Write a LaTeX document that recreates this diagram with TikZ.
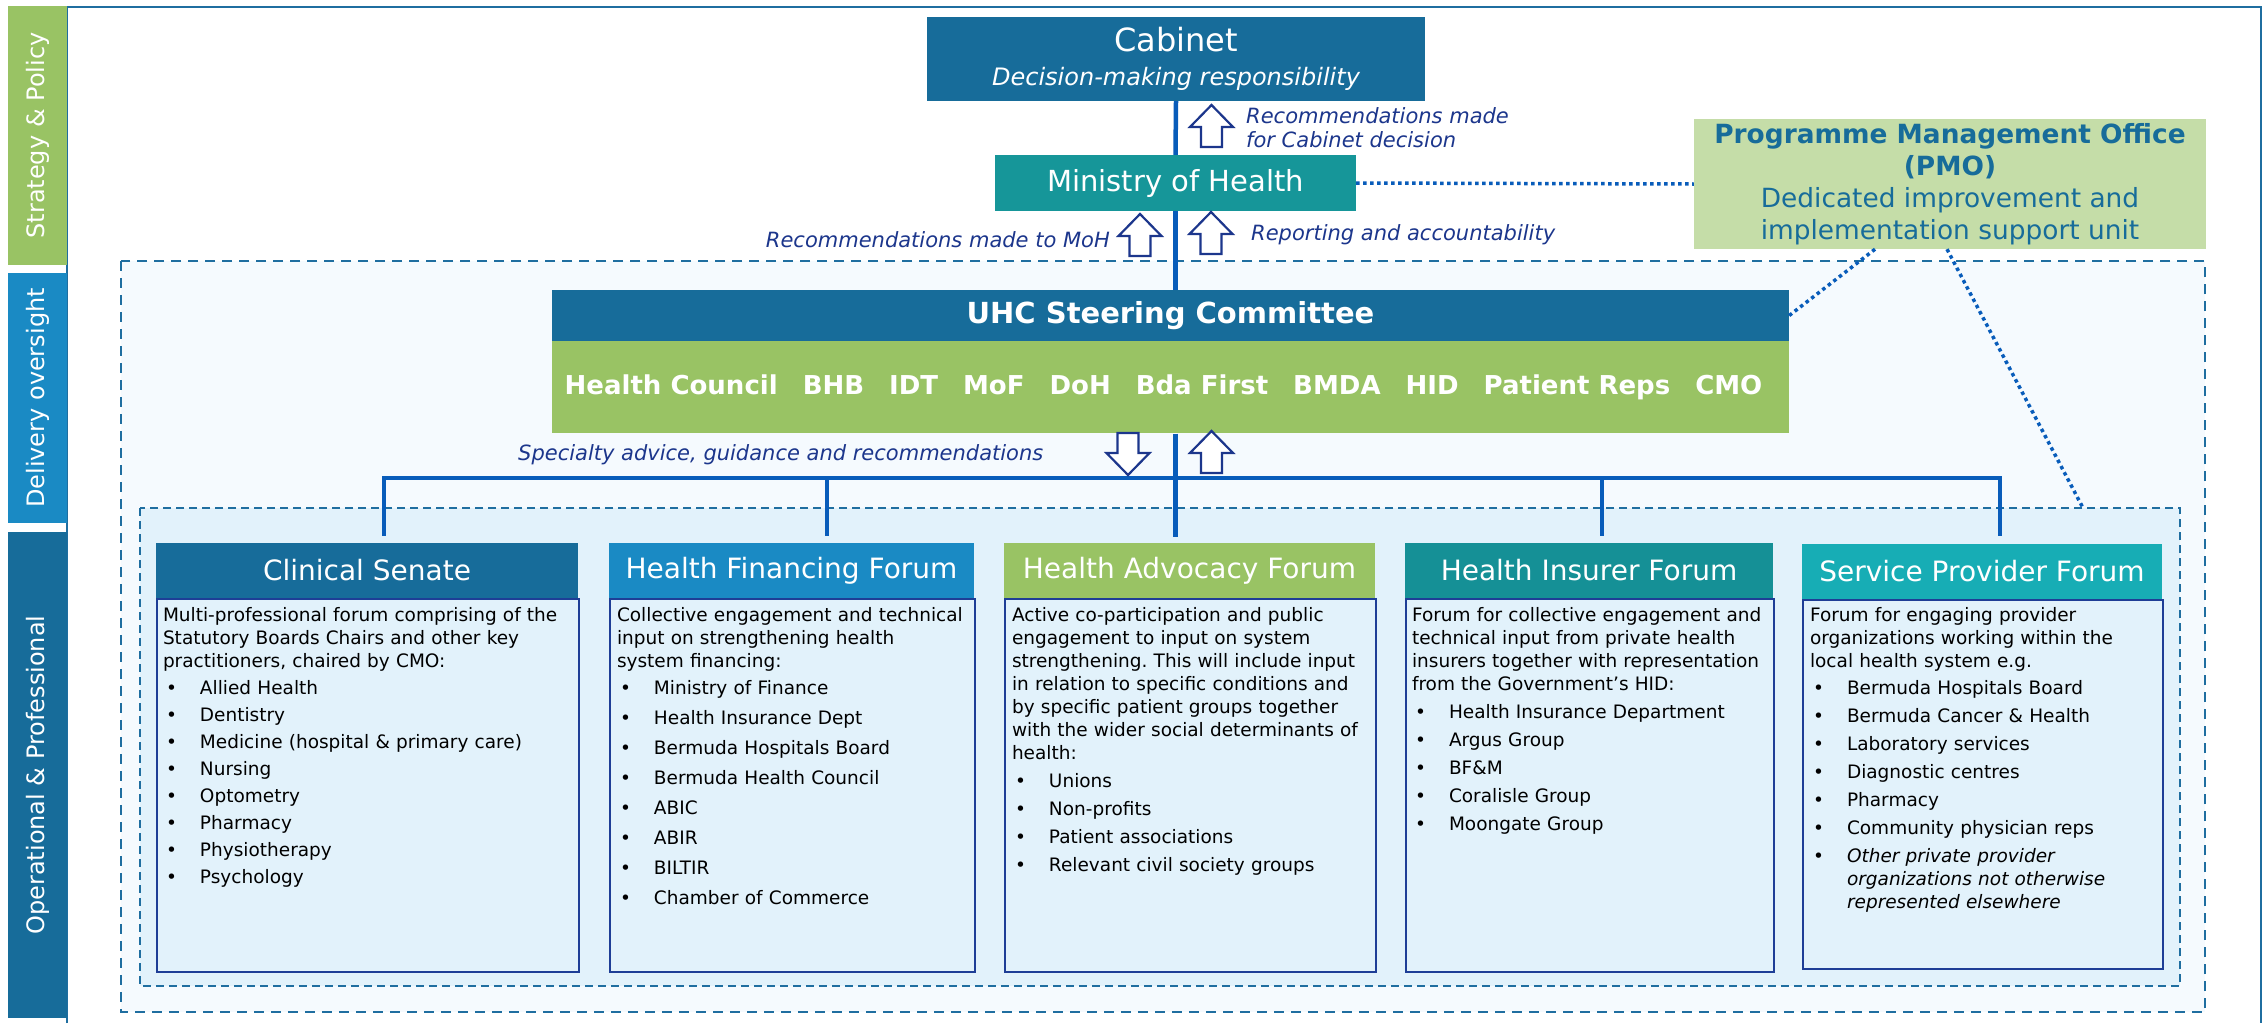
\documentclass[tikz,border=0pt]{standalone}
\usepackage{fontspec}
\setmainfont{DejaVu Sans}
\usetikzlibrary{calc,positioning}
\frenchspacing

\definecolor{deepblue}{RGB}{23,108,154}
\definecolor{midblue}{RGB}{26,138,196}
\definecolor{leafgreen}{RGB}{153,195,100}
\definecolor{paleleaf}{RGB}{197,221,168}
\definecolor{tealmoh}{RGB}{22,150,153}
\definecolor{tealhif}{RGB}{21,144,150}
\definecolor{aquaspf}{RGB}{23,173,181}
\definecolor{linkblue}{RGB}{8,92,186}
\definecolor{navytxt}{RGB}{28,54,140}
\definecolor{edgenavy}{RGB}{30,62,150}
\definecolor{dashblue}{RGB}{31,110,160}
\definecolor{outerfill}{RGB}{245,250,254}
\definecolor{innerfill}{RGB}{226,242,251}

\newcommand{\bul}{\makebox[37pt][l]{\hspace{3pt}\textbullet}}
\newcommand{\mgap}{\hspace{25pt}}

\tikzset{
  bandbox/.style={rotate=90, fill=#1, text=white, inner sep=0pt, minimum height=59pt, font=\fontsize{24}{28}\selectfont},
  tagbox/.style={fill=#1, text=white, inner sep=0pt, align=center},
  fhead/.style={tagbox=#1, minimum height=55pt, font=\fontsize{28}{32}\selectfont},
  fbody/.style={draw=edgenavy, line width=2.2pt, fill=innerfill, inner sep=0pt, anchor=north west, minimum height=373pt},
  ftext/.style={anchor=north west, inner sep=0pt, align=left, font=\fontsize{18.5}{23}\selectfont},
  lbl/.style={inner sep=0pt, text=navytxt, font=\fontsize{21}{24}\selectfont\itshape},
  conn/.style={draw=linkblue, line width=4.5pt},
  dotconn/.style={draw=linkblue, line width=3.5pt, dash pattern=on 3.5pt off 3.5pt},
  dashbox/.style={draw=dashblue, line width=2.5pt},
  hollow/.style={draw=navytxt, line width=2.2pt, fill=white, line join=miter},
  uparr/.pic={\draw[hollow] (-10.5,0) -- (-10.5,-20) -- (-21.5,-20) -- (0,-42) -- (21.5,-20) -- (10.5,-20) -- (10.5,0) -- cycle;},
  downarr/.pic={\draw[hollow] (-10.5,0) -- (-10.5,20) -- (-21.5,20) -- (0,42) -- (21.5,20) -- (10.5,20) -- (10.5,0) -- cycle;}
}

\begin{document}
\begin{tikzpicture}[x=1pt, y=-1pt]
    \useasboundingbox (0,0) rectangle (2264,1023);
    \fill[white] (0,0) rectangle (2264,1023);

    % containers
    \draw[dashbox, fill=outerfill, dash pattern=on 10pt off 7pt] (121,261) rectangle (2205,1012);
    \draw[dashbox, fill=innerfill, line width=2pt, dash pattern=on 8pt off 5pt] (140,508) rectangle (2180,986);
    \draw[dashblue, line width=2pt] (67,1023) -- (67,7) -- (2261,7) -- (2261,1023);

    % side bands
    \node[bandbox=leafgreen, minimum width=259pt] (sp) at (37.5,135.5) {Strategy \& Policy};
    \node[bandbox=midblue, minimum width=250pt] (dov) at (37.5,398) {Delivery oversight};
    \node[bandbox=deepblue, minimum width=486pt] (opp) at (37.5,775) {Operational \& Professional};

    % top levels
    \node[tagbox=deepblue, minimum width=498pt, minimum height=84pt, font=\fontsize{24}{34}\selectfont] (cab) at (1176,59)
        {{\fontsize{32}{34}\selectfont Cabinet}\\{\itshape Decision-making responsibility}};
    \node[tagbox=tealmoh, minimum width=361pt, minimum height=56pt, font=\fontsize{29}{34}\selectfont] (moh) at (1175.5,183) {Ministry of Health};
    \node[tagbox=paleleaf, text=deepblue, minimum width=512pt, minimum height=130pt, font=\fontsize{26.4}{32}\selectfont] (pmo) at (1950,184)
        {\textbf{Programme Management Office}\\\textbf{(PMO)}\\Dedicated improvement and\\implementation support unit};

    \node[tagbox=deepblue, minimum width=1237pt, minimum height=51pt, font=\bfseries\fontsize{29}{34}\selectfont] (uhc) at (1170.5,315.5) {UHC Steering Committee};
    \node[tagbox=leafgreen, minimum width=1237pt, minimum height=92pt, font=\bfseries\fontsize{26}{30}\selectfont, anchor=north] (mem) at (uhc.south)
        {Health Council\mgap BHB\mgap IDT\mgap MoF\mgap DoH\mgap Bda First\mgap BMDA\mgap HID\mgap Patient Reps\mgap CMO\hspace*{14pt}};

    % forums
    \node[fhead=deepblue, minimum width=422pt] (cs) at (367,570.5) {Clinical Senate};
    \node[fhead=midblue, minimum width=365pt] (hff) at (791.5,570.5) {Health Financing Forum};
    \node[fhead=leafgreen, minimum width=371pt] (haf) at (1189.5,570.5) {Health Advocacy Forum};
    \node[fhead=tealhif, minimum width=368pt] (hif) at (1589,570.5) {Health Insurer Forum};
    \node[fhead=aquaspf, minimum width=360pt] (spf) at (1982,571) {Service Provider Forum};

    \node[fbody, minimum width=422pt] (csb) at (cs.south west) {};
    \node[fbody, minimum width=365pt] (hffb) at (hff.south west) {};
    \node[fbody, minimum width=371pt] (hafb) at (haf.south west) {};
    \node[fbody, minimum width=368pt] (hifb) at (hif.south west) {};
    \node[fbody, minimum width=360pt, minimum height=369pt] (spfb) at (spf.south west) {};

    \node[ftext, text width=412pt] (cst) at ($(csb.north west)+(7,9)$)
        {Multi-professional forum comprising of the\\
         Statutory Boards Chairs and other key\\
         practitioners, chaired by CMO:\\[4pt]
         \bul Allied Health\\[4pt]
         \bul Dentistry\\[4pt]
         \bul Medicine (hospital \& primary care)\\[4pt]
         \bul Nursing\\[4pt]
         \bul Optometry\\[4pt]
         \bul Pharmacy\\[4pt]
         \bul Physiotherapy\\[4pt]
         \bul Psychology};
    \node[ftext, text width=357pt] (hfft) at ($(hffb.north west)+(8,9)$)
        {Collective engagement and technical\\
         input on strengthening health\\
         system financing:\\[4pt]
         \bul Ministry of Finance\\[7pt]
         \bul Health Insurance Dept\\[7pt]
         \bul Bermuda Hospitals Board\\[7pt]
         \bul Bermuda Health Council\\[7pt]
         \bul ABIC\\[7pt]
         \bul ABIR\\[7pt]
         \bul BILTIR\\[7pt]
         \bul Chamber of Commerce};
    \node[ftext, text width=363pt] (haft) at ($(hafb.north west)+(8,9)$)
        {Active co-participation and public\\
         engagement to input on system\\
         strengthening. This will include input\\
         in relation to specific conditions and\\
         by specific patient groups together\\
         with the wider social determinants of\\
         health:\\[5pt]
         \bul Unions\\[5pt]
         \bul Non-profits\\[5pt]
         \bul Patient associations\\[5pt]
         \bul Relevant civil society groups};
    \node[ftext, text width=361pt] (hift) at ($(hifb.north west)+(7,9)$)
        {Forum for collective engagement and\\
         technical input from private health\\
         insurers together with representation\\
         from the Government’s HID:\\[5pt]
         \bul Health Insurance Department\\[5pt]
         \bul Argus Group\\[5pt]
         \bul BF\&M\\[5pt]
         \bul Coralisle Group\\[5pt]
         \bul Moongate Group};
    \node[ftext, text width=352pt] (spft) at ($(spfb.north west)+(8,9)$)
        {Forum for engaging provider\\
         organizations working within the\\
         local health system e.g.\\[4pt]
         \bul Bermuda Hospitals Board\\[5pt]
         \bul Bermuda Cancer \& Health\\[5pt]
         \bul Laboratory services\\[5pt]
         \bul Diagnostic centres\\[5pt]
         \bul Pharmacy\\[5pt]
         \bul Community physician reps\\[5pt]
         \bul\textit{Other private provider}\\
         \hspace*{37pt}\textit{organizations not otherwise}\\
         \hspace*{37pt}\textit{represented elsewhere}};

    % labels
    \node[lbl, anchor=north west, align=left] (l1) at (1246,107) {Recommendations made\\for Cabinet decision};
    \node[lbl, anchor=base east] (l2) at (1110,247) {Recommendations made to MoH};
    \node[lbl, anchor=base west] (l3) at (1251,240) {Reporting and accountability};
    \node[lbl, anchor=base west] (l4) at (518,460) {Specialty advice, guidance and recommendations};

    % solid links
    \draw[conn] (cab.south) -- (moh.north);
    \draw[conn] (moh.south) -- (moh.south |- uhc.north);
    \coordinate (busL) at (384,478);
    \coordinate (busR) at (2000,478);
    \coordinate (bus2) at (827,478);
    \coordinate (bus4) at (1602,478);
    \draw[conn, shorten <=7pt, shorten >=7pt] (busL |- cs.north) -- (busL) -- (busR) -- (busR |- spf.north);
    \draw[conn, shorten >=7pt] (bus2) -- (bus2 |- hff.north);
    \draw[conn, shorten >=7pt] (bus4) -- (bus4 |- hif.north);
    \draw[conn, shorten >=6pt] (mem.south -| moh.south) -- (moh.south |- haf.north);

    % dotted links to the PMO
    \coordinate (opentry) at (2083,508);
    \draw[dotconn] (moh.east) -- (pmo.west);
    \draw[dotconn] ($(pmo.south)+(-75,0)$) -- (uhc.east);
    \draw[dotconn] ($(pmo.south)+(-3,0)$) -- (opentry);

    % hollow arrows
    \pic at (1211.5,147) {uparr};
    \pic at (1140,256) {uparr};
    \pic at (1211,254) {uparr};
    \pic at (1128,433) {downarr};
    \pic at (1211.5,473) {uparr};
\end{tikzpicture}
\end{document}
